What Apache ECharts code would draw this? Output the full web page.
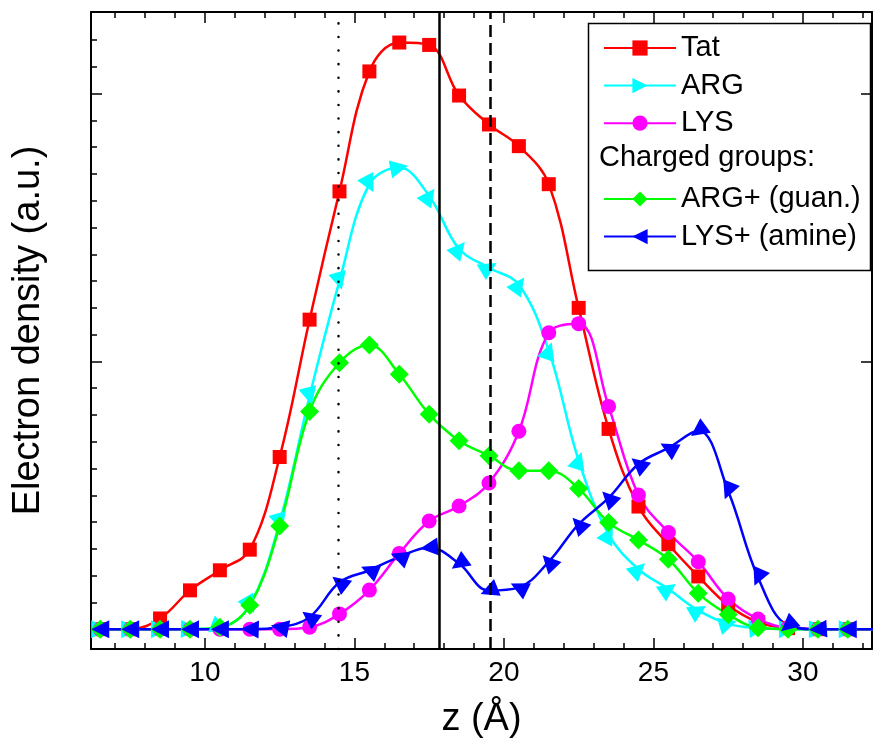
<!DOCTYPE html>
<html>
<head>
<meta charset="utf-8">
<title>Electron density profile</title>
<script src="https://cdn.jsdelivr.net/npm/echarts@6/dist/echarts.min.js"></script>
<style>
  html, body { margin: 0; padding: 0; background: #fff; }
  #chart { width: 873px; height: 744px; }
</style>
</head>
<body>
<div id="chart"></div>
<script>
// z positions of the sampled bins (Å)
var zValues = [6.5, 7.5, 8.5, 9.5, 10.5, 11.5, 12.5, 13.5, 14.5, 15.5, 16.5, 17.5, 18.5, 19.5,
               20.5, 21.5, 22.5, 23.5, 24.5, 25.5, 26.5, 27.5, 28.5, 29.5, 30.5, 31.5, 32.5];

// electron density, arbitrary units (100 = one major tick)
var tat     = [0, 0, 4, 14.5, 22, 29.7, 64.3, 115.6, 163.5, 208.3, 219.1, 218.2, 199.3, 188.5,
               180.4, 166.2, 120, 74.8, 45.8, 31.7, 19.7, 8.9, 2.6, 0.4, 0, 0, 0];
var arg     = [0, 0, 0, 0, 0.7, 9, 40, 87, 130, 166.2, 172.4, 161.8, 142, 135,
               128.6, 104, 63, 35.4, 22.4, 15, 7, 2, 0.4, 0, 0, 0, 0];
var lys     = [0, 0, 0, 0, 0, 0, 0, 0.7, 5.7, 14.6, 28.3, 40.4, 46, 54.6,
               73.9, 110.7, 114.1, 83.2, 50.1, 36.1, 25.2, 11.3, 3.8, 0.5, 0, 0, 0];
var argPlus = [0, 0, 0, 0, 0.7, 8.9, 38.5, 81.3, 99.5, 106.1, 95.2, 80.3, 70.4, 64.8,
               59.2, 59.2, 52.5, 39.8, 33.3, 26.1, 13.4, 5.5, 0.5, 0, 0, 0, 0];
var lysPlus = [0, 0, 0, 0, 0, 0, 0.7, 4.5, 17.5, 22, 27, 30.5, 24.5, 14.4,
               15.6, 25.2, 39.2, 49, 61.7, 67.7, 74.1, 51.6, 19.3, 1.4, 0, 0, 0];

// reference planes (Å): dotted, solid, dashed
var planes = [14.45, 17.83, 19.55];

// ticks
var xMajorTicks = [10, 15, 20, 25, 30];
var xMinorTicks = [7, 8, 9, 11, 12, 13, 14, 16, 17, 18, 19, 21, 22, 23, 24, 26, 27, 28, 29, 31, 32];
var yMajorTicks = [0, 100, 200];
var yMinorTicks = [10, 20, 30, 40, 50, 60, 70, 80, 90, 110, 120, 130, 140, 150, 160, 170, 180, 190, 210, 220];

var FONT = 'Liberation Sans, Arial, Helvetica, sans-serif';
var chart = echarts.init(document.getElementById('chart'));

function pairs(ys) {
    return zValues.map(function (z, i) { return [z, ys[i]]; });
}

function xAx(pos, ticks, len, withLine, withLabel) {
    return {
        type: 'value', position: pos, min: 6.19, max: 32.31,
        axisLine: { show: withLine, onZero: false, lineStyle: { color: '#000', width: 2 } },
        axisTick: { show: true, inside: true, length: len, customValues: ticks,
                    lineStyle: { color: '#000', width: 1.5 } },
        axisLabel: withLabel ? { show: true, customValues: ticks, fontSize: 28, color: '#000',
                                 fontFamily: FONT, margin: 10 } : { show: false },
        splitLine: { show: false }
    };
}

function yAx(pos, ticks, len, withLine) {
    return {
        type: 'value', position: pos, min: -7.4, max: 230.5,
        axisLine: { show: withLine, onZero: false, lineStyle: { color: '#000', width: 2 } },
        axisTick: { show: true, inside: true, length: len, customValues: ticks,
                    lineStyle: { color: '#000', width: 1.5 } },
        axisLabel: { show: false },
        splitLine: { show: false }
    };
}

function lineSeries(name, color, ys, symbol, size, rotate) {
    return {
        name: name, type: 'line', xAxisIndex: 0, yAxisIndex: 0,
        data: pairs(ys), smooth: 0.38, showAllSymbol: true,
        symbol: symbol, symbolSize: size, symbolRotate: rotate || 0,
        lineStyle: { color: color, width: 2.5 },
        itemStyle: { color: color },
        emphasis: { disabled: true },
        clip: true
    };
}

var xAxes = [
    xAx('bottom', xMajorTicks, 11, true, true),
    xAx('bottom', xMinorTicks, 6, false, false),
    xAx('top', xMajorTicks, 11, true, false),
    xAx('top', xMinorTicks, 6, false, false)
];
xAxes[0].name = 'z (Å)';
xAxes[0].nameLocation = 'middle';
xAxes[0].nameGap = 52;
xAxes[0].nameTextStyle = { fontSize: 38, color: '#000', fontFamily: FONT };

var yAxes = [
    yAx('left', yMajorTicks, 11, true),
    yAx('left', yMinorTicks, 6, false),
    yAx('right', yMajorTicks, 11, true)
];
yAxes[0].name = 'Electron density (a.u.)';
yAxes[0].nameLocation = 'middle';
yAxes[0].nameGap = 43;
yAxes[0].nameTextStyle = { fontSize: 38, color: '#000', fontFamily: FONT };

var seriesList = [
    lineSeries('Tat', '#ff0000', tat, 'rect', 14),
    lineSeries('ARG', '#00ffff', arg, 'triangle', 18, -90),
    lineSeries('LYS', '#ff00ff', lys, 'circle', 15),
    lineSeries('ARG+ (guan.)', '#00ff00', argPlus, 'diamond', 19),
    lineSeries('LYS+ (amine)', '#0000ff', lysPlus, 'triangle', 18, 90)
];

seriesList[0].markLine = {
    silent: true, symbol: 'none', label: { show: false }, animation: false,
    data: [
        { xAxis: planes[0], lineStyle: { color: '#000', width: 2.5, type: [0.1, 13.5], cap: 'round' } },
        { xAxis: planes[1], lineStyle: { color: '#000', width: 2.5, type: 'solid' } },
        { xAxis: planes[2], lineStyle: { color: '#000', width: 2.5, type: [12, 6] } }
    ]
};

var legendText = { fontSize: 29, color: '#000', fontFamily: FONT };

var option = {
    animation: false,
    backgroundColor: '#fff',
    grid: { left: 91, right: 1, top: 12, bottom: 92 },
    xAxis: xAxes,
    yAxis: yAxes,
    legend: [
        {
            data: [{ name: 'Tat' }, { name: 'ARG', symbolRotate: -90 }, { name: 'LYS' }],
            orient: 'vertical', left: 598, top: 28.5, itemWidth: 72, itemHeight: 19, itemGap: 8.6,
            textStyle: legendText, selectedMode: false
        },
        {
            data: [{ name: 'ARG+ (guan.)' }, { name: 'LYS+ (amine)', symbolRotate: 90 }],
            orient: 'vertical', left: 598, top: 179.5, itemWidth: 72, itemHeight: 19, itemGap: 8.6,
            textStyle: legendText, selectedMode: false
        }
    ],
    graphic: [
        { type: 'rect', left: 586, top: 21, shape: { width: 282, height: 247 },
          style: { fill: 'none', stroke: '#000', lineWidth: 1.5 } },
        { type: 'text', left: 599, top: 143, style: { text: 'Charged groups:', fill: '#000',
          font: '29px ' + FONT } }
    ],
    series: seriesList
};

chart.setOption(option);

// markers follow the local slope of the curve
function arrowData(ys, base) {
    var px = zValues.map(function (z, i) {
        return chart.convertToPixel({ xAxisIndex: 0, yAxisIndex: 0 }, [z, ys[i]]);
    });
    return px.map(function (p, i) {
        var a = px[Math.max(i - 1, 0)], b = px[Math.min(i + 1, px.length - 1)];
        var th = Math.atan2(-(b[1] - a[1]), b[0] - a[0]) * 180 / Math.PI;
        return { value: [zValues[i], ys[i]], symbolRotate: base - th };
    });
}

chart.setOption({
    series: [{}, { data: arrowData(arg, -90) }, {}, {}, { data: arrowData(lysPlus, 90) }]
});
</script>
</body>
</html>
